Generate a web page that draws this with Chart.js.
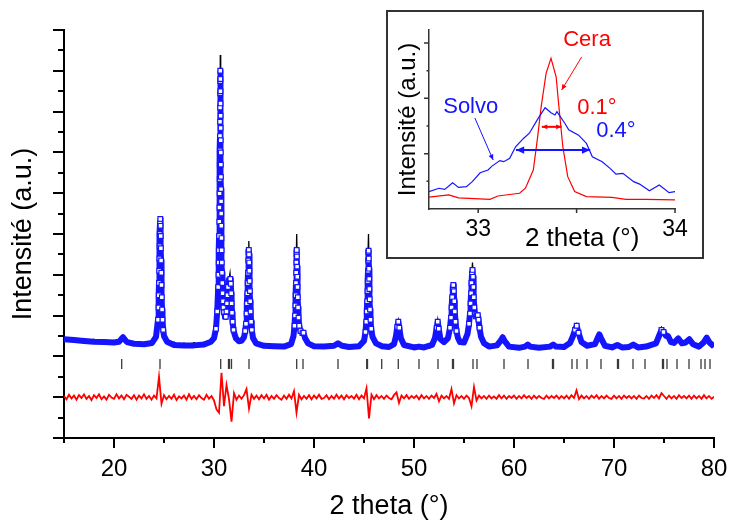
<!DOCTYPE html>
<html>
<head>
<meta charset="utf-8">
<script src="https://cdn.jsdelivr.net/npm/chart.js@4.4.0/dist/chart.umd.min.js"></script>
<style>
  html, body { margin: 0; padding: 0; background: #fff; }
  canvas { display: block; }
  #wrap { position: relative; width: 732px; height: 523px; }
  #inset { position: absolute; left: 386px; top: 10px; width: 318px; height: 249px;
           border: 2px solid #333; box-sizing: border-box; background: #fff; }
</style>
</head>
<body>
<div id="wrap">
  <canvas id="main" width="732" height="523"></canvas>
  <div id="inset"><canvas id="zoom" width="314" height="245"></canvas></div>
</div>
<script>
// ---- données (2 theta, intensité en unités arbitraires) ----

// profil calculé (carrés bleus)
const calcProfile = [
  [15,2.42],[16,2.40],[17,2.38],[18,2.36],[19,2.35],[20,2.34],[20.5,2.36],[20.75,2.43],[20.9,2.47],[21.05,2.42],[21.3,2.35],
  [22,2.31],[23,2.30],[23.8,2.33],[24.2,2.48],[24.4,2.90],[24.45,3.20],[24.48,3.50],[24.5,3.80],[24.52,4.10],[24.54,4.40],
  [24.56,4.70],[24.58,5.00],[24.6,5.25],[24.63,5.37],[24.65,5.20],[24.67,4.95],[24.69,4.65],[24.71,4.35],[24.73,4.05],
  [24.75,3.75],[24.78,3.45],[24.81,3.15],[24.85,2.90],[24.92,2.65],[25,2.50],[25.3,2.36],[26,2.28],[27,2.27],[28,2.27],
  [29,2.29],[29.7,2.36],[30,2.45],[30.2,2.68],[30.32,3.10],[30.42,3.70],[30.45,4.00],[30.47,4.30],[30.49,4.60],[30.51,4.95],
  [30.53,5.30],[30.545,5.65],[30.56,6.00],[30.57,6.35],[30.58,6.70],[30.59,7.05],[30.6,7.40],[30.605,7.75],[30.61,8.10],
  [30.62,8.45],[30.625,8.75],[30.63,9.00],[30.64,8.80],[30.645,8.50],[30.65,8.20],[30.66,7.90],[30.665,7.60],[30.67,7.30],
  [30.68,7.00],[30.685,6.70],[30.69,6.40],[30.7,6.10],[30.71,5.80],[30.72,5.50],[30.73,5.20],[30.745,4.90],[30.76,4.60],
  [30.78,4.30],[30.8,4.05],[30.83,3.80],[30.86,3.55],[30.9,3.35],[30.95,3.20],[31,3.08],[31.1,2.98],[31.18,2.97],
  [31.25,3.10],[31.3,3.30],[31.35,3.50],[31.4,3.70],[31.46,3.84],[31.52,3.86],[31.58,3.86],[31.63,3.90],[31.68,3.78],
  [31.72,3.55],[31.76,3.30],[31.8,3.07],[31.86,2.85],[31.95,2.65],[32.05,2.55],[32.2,2.44],[32.5,2.37],[32.75,2.38],
  [33,2.47],[33.12,2.62],[33.2,2.80],[33.26,3.05],[33.3,3.30],[33.34,3.55],[33.37,3.80],[33.4,4.05],[33.43,4.35],
  [33.46,4.55],[33.48,4.61],[33.5,4.50],[33.52,4.30],[33.54,4.10],[33.56,3.85],[33.59,3.60],[33.62,3.35],[33.66,3.10],
  [33.71,2.85],[33.78,2.65],[33.9,2.45],[34.2,2.32],[35,2.26],[36,2.25],[37,2.24],[37.7,2.30],[37.95,2.50],[38.05,2.75],
  [38.1,3.00],[38.14,3.25],[38.17,3.50],[38.2,3.80],[38.22,4.05],[38.24,4.30],[38.26,4.50],[38.27,4.61],[38.29,4.45],
  [38.31,4.20],[38.33,3.95],[38.35,3.70],[38.38,3.45],[38.41,3.20],[38.45,2.95],[38.52,2.75],[38.65,2.62],[38.85,2.57],
  [38.95,2.58],[39.1,2.45],[39.4,2.32],[40,2.25],[41,2.24],[42,2.26],[42.4,2.32],[42.8,2.26],[43.5,2.23],[44.5,2.25],
  [45,2.38],[45.15,2.60],[45.23,2.85],[45.28,3.10],[45.32,3.35],[45.35,3.60],[45.38,3.85],[45.4,4.10],[45.42,4.35],
  [45.44,4.55],[45.46,4.59],[45.48,4.40],[45.5,4.15],[45.52,3.90],[45.54,3.65],[45.57,3.40],[45.6,3.15],[45.65,2.90],
  [45.72,2.68],[45.85,2.48],[46.2,2.32],[46.8,2.25],[47.5,2.23],[48,2.30],[48.2,2.50],[48.33,2.72],[48.43,2.85],
  [48.53,2.70],[48.68,2.45],[49,2.28],[50,2.22],[50.5,2.24],[51,2.22],[51.8,2.28],[52.1,2.45],[52.27,2.70],[52.37,2.85],
  [52.47,2.68],[52.65,2.42],[53,2.35],[53.4,2.45],[53.6,2.70],[53.7,2.95],[53.76,3.20],[53.82,3.45],[53.88,3.68],
  [53.93,3.75],[53.98,3.60],[54.03,3.35],[54.08,3.10],[54.15,2.85],[54.25,2.62],[54.4,2.45],[54.6,2.35],[55,2.34],
  [55.35,2.55],[55.5,2.80],[55.6,3.05],[55.66,3.30],[55.71,3.55],[55.75,3.80],[55.8,4.02],[55.85,4.12],[55.9,3.95],
  [55.94,3.70],[55.98,3.45],[56.03,3.20],[56.1,3.03],[56.2,2.98],[56.3,3.00],[56.38,3.01],[56.45,2.90],[56.55,2.70],
  [56.7,2.48],[57,2.32],[57.5,2.24],[58.3,2.27],[58.7,2.40],[58.87,2.47],[59.05,2.38],[59.5,2.24],[60.5,2.21],[61.1,2.24],
  [61.37,2.29],[61.6,2.24],[62.5,2.21],[63.6,2.24],[63.93,2.29],[64.2,2.24],[65,2.23],[65.6,2.33],[65.9,2.50],[66.1,2.65],
  [66.27,2.75],[66.45,2.58],[66.75,2.35],[67.3,2.26],[68.1,2.30],[68.4,2.47],[68.53,2.54],[68.7,2.45],[69.1,2.26],
  [69.8,2.22],[70.33,2.28],[70.8,2.22],[71.5,2.23],[71.93,2.29],[72.4,2.22],[73.2,2.24],[74.2,2.32],[74.5,2.50],
  [74.75,2.65],[74.95,2.60],[75.2,2.50],[75.4,2.50],[75.7,2.35],[76,2.33],[76.43,2.44],[76.8,2.32],[77.15,2.34],
  [77.53,2.42],[77.9,2.30],[78.5,2.24],[78.95,2.34],[79.27,2.46],[79.55,2.34],[80,2.24]
];

// profil observé (trait noir)
const obsProfile = [
  [15,2.47],[15.5,2.40],[16,2.46],[16.5,2.39],[17,2.44],[17.5,2.36],[18,2.42],[18.5,2.34],[19,2.41],[19.5,2.33],[20,2.39],
  [20.5,2.35],[20.9,2.50],[21.3,2.33],[21.7,2.38],[22.2,2.29],[22.6,2.36],[23,2.28],[23.5,2.35],[23.9,2.34],[24.3,2.70],
  [24.5,4.00],[24.6,5.30],[24.63,5.42],[24.67,5.10],[24.75,3.60],[24.9,2.70],[25.2,2.38],[25.6,2.30],[26,2.35],[26.5,2.26],
  [27,2.33],[27.5,2.25],[28,2.34],[28.5,2.27],[29,2.35],[29.5,2.30],[30,2.47],[30.3,3.00],[30.5,4.60],[30.58,7.00],
  [30.63,9.39],[30.67,8.10],[30.72,6.00],[30.8,4.20],[30.95,3.20],[31.15,2.99],[31.35,3.45],[31.5,3.90],[31.6,4.04],
  [31.7,3.70],[31.85,2.90],[32.1,2.50],[32.5,2.36],[32.9,2.44],[33.2,2.85],[33.4,4.30],[33.48,4.83],[33.55,4.10],
  [33.7,2.85],[34,2.42],[34.5,2.30],[35,2.30],[35.5,2.22],[36,2.30],[36.5,2.22],[37,2.29],[37.5,2.23],[37.9,2.45],
  [38.15,3.40],[38.27,5.00],[38.33,4.20],[38.5,2.85],[38.9,2.60],[39.3,2.34],[39.8,2.29],[40.3,2.21],[40.8,2.28],
  [41.3,2.20],[41.8,2.28],[42.4,2.35],[42.9,2.24],[43.4,2.20],[43.9,2.28],[44.4,2.22],[44.9,2.36],[45.25,3.10],
  [45.45,5.00],[45.5,4.20],[45.65,2.95],[45.9,2.45],[46.3,2.31],[46.8,2.22],[47.3,2.29],[47.8,2.24],[48.2,2.52],
  [48.43,2.88],[48.7,2.44],[49.1,2.28],[49.6,2.21],[50.1,2.28],[50.6,2.20],[51.1,2.27],[51.6,2.21],[52.1,2.46],
  [52.37,2.90],[52.6,2.45],[53,2.33],[53.5,2.52],[53.8,3.35],[53.93,3.80],[54.1,3.05],[54.5,2.38],[55,2.36],[55.5,2.85],
  [55.75,3.90],[55.85,4.30],[56,3.40],[56.2,2.99],[56.4,3.05],[56.7,2.50],[57.1,2.30],[57.6,2.22],[58.1,2.29],[58.5,2.30],
  [58.87,2.50],[59.3,2.27],[59.8,2.19],[60.3,2.26],[60.8,2.19],[61.37,2.31],[61.9,2.20],[62.4,2.26],[62.9,2.19],
  [63.4,2.25],[63.93,2.31],[64.5,2.20],[65,2.27],[65.6,2.35],[65.9,2.52],[66.27,2.78],[66.5,2.55],[66.9,2.30],[67.4,2.24],
  [67.9,2.29],[68.53,2.57],[68.9,2.32],[69.4,2.21],[69.9,2.27],[70.33,2.31],[70.8,2.20],[71.3,2.27],[71.93,2.32],
  [72.5,2.20],[73,2.27],[73.5,2.21],[74.2,2.34],[74.55,2.62],[74.75,2.72],[74.95,2.64],[75.2,2.48],[75.4,2.53],
  [75.7,2.36],[76,2.32],[76.43,2.46],[76.8,2.30],[77.2,2.36],[77.53,2.44],[77.9,2.28],[78.4,2.26],[78.95,2.35],
  [79.27,2.48],[79.6,2.33],[80,2.23]
];

// courbe différence (rouge), un point tous les 0.25° à partir de 15°
const diffStart = 15, diffStep = 0.25;
const diffValues = [
  1.03,0.95,1.06,0.97, 1.04,0.94,1.05,0.98, 1.07,0.96,1.03,0.93, 1.05,0.98,1.07,0.95, 1.02,0.94,1.06,0.99,
  0.96,1.07,0.97,1.04, 0.95,1.06,1.01,0.96, 1.05,0.94,1.04,0.97, 1.07,0.96,1.03,0.94, 1.04,0.97,1.50,0.84,
  1.05,0.95,1.03,0.96, 1.06,0.93,1.02,0.97, 1.04,0.94,1.07,0.96, 1.03,0.95,1.05,0.98, 0.94,1.06,0.96,1.03,
  0.92,0.70,0.62,1.60, 0.78,1.30,0.95,0.40, 1.10,0.94,1.04,0.96, 1.05,1.20,0.72,1.06, 0.96,1.04,0.95,1.05,
  0.97,1.06,0.94,1.03, 0.96,1.05,0.98,0.94, 1.04,0.96,1.06,0.97, 1.15,0.62,1.06,0.95, 1.03,0.96,1.05,0.95,
  1.04,0.97,1.06,0.96, 0.98,1.05,0.95,1.03, 0.96,1.06,0.97,1.04, 0.95,1.05,0.98,1.03, 0.96,1.06,0.95,1.04,
  0.97,1.22,0.48,1.06, 0.95,1.05,0.97,1.03, 0.96,1.04,0.98,0.95, 1.05,1.12,0.86,1.04, 0.97,1.05,0.96,1.03,
  0.98,1.04,0.95,1.05, 0.97,1.03,0.96,1.04, 0.98,1.08,0.90,1.04, 0.97,1.03,0.96,1.20, 0.85,1.05,0.97,1.03,
  0.96,1.04,0.98,0.78, 1.25,0.92,1.04,0.97, 1.03,0.96,1.04,0.97, 1.02,0.96,1.05,0.97, 1.04,0.96,1.03,0.98,
  1.04,0.96,1.03,0.97, 1.05,0.98,1.03,0.96, 1.04,0.97,1.03,0.98, 0.96,1.04,0.97,1.03, 0.98,1.04,0.96,1.03,
  0.97,1.04,0.96,1.05, 0.98,1.17,0.95,1.04, 0.97,1.03,0.96,1.04, 0.98,1.05,0.96,1.03, 0.97,1.04,0.98,0.96,
  1.04,0.97,1.03,0.96, 1.04,0.98,1.03,0.97, 1.03,0.96,1.04,0.98, 0.97,1.03,0.96,1.04, 0.98,1.05,0.97,1.10,
  1.03,0.96,1.04,0.97, 1.03,0.96,1.05,0.98, 1.03,0.97,1.04,0.96, 1.04,0.97,1.03,0.96, 1.05,0.97,1.03,0.96,
  1.01
];

// positions de Bragg (traits verticaux)
const braggPositions = [20.77,24.6,30.67,31.45,31.55,31.75,33.5,38.27,38.9,42.4,45.27,45.35,46.77,48.43,50.5,52.4,
  53.85,53.95,55.9,56.3,59.0,61.4,63.85,63.95,65.8,66.3,67.3,68.7,70.35,70.45,71.9,73.1,74.85,74.95,75.3,76.3,
  77.5,78.7,79.1,79.6];
const braggLevel = 1.815;

// graduations
const xMajor = [20, 30, 40, 50, 60, 70, 80];
const xMinor = [15, 25, 35, 45, 55, 65, 75];
const yMajor = [0, 1, 2, 3, 4, 5, 6, 7, 8, 9, 10];
const yMinor = [0.5, 1.5, 2.5, 3.5, 4.5, 5.5, 6.5, 7.5, 8.5, 9.5];

// encart : pic autour de 33.4°
const solvoProfile = [
  [32.75,0.63],[32.80,0.75],[32.83,0.71],[32.87,0.95],[32.90,0.78],[32.94,0.81],[32.97,0.99],[33.01,1.31],[33.05,1.41],
  [33.07,1.55],[33.11,1.75],[33.13,1.71],[33.16,1.83],[33.19,2.25],[33.23,2.55],[33.26,2.74],[33.30,3.22],[33.34,3.66],
  [33.37,3.48],[33.39,3.40],[33.40,3.52],[33.44,3.10],[33.46,2.86],[33.51,2.67],[33.55,2.37],[33.58,1.89],[33.63,1.71],
  [33.67,1.47],[33.70,1.26],[33.735,1.29],[33.79,0.99],[33.82,0.90],[33.87,0.66],[33.92,0.87],[33.97,0.59],[34.0,0.63]
];
const ceraProfile = [
  [32.75,0.43],[32.85,0.51],[32.90,0.40],[33.06,0.35],[33.10,0.47],[33.21,0.57],[33.24,0.75],[33.28,1.41],[33.30,2.49],
  [33.32,3.70],[33.345,4.90],[33.37,5.45],[33.396,4.78],[33.41,3.70],[33.43,2.25],[33.455,1.17],[33.49,0.63],
  [33.55,0.45],[33.68,0.42],[33.75,0.35],[33.85,0.35],[34.0,0.33]
];
const insetXTicks = [33, 33.5, 34];
const insetXLabels = [33, 34];
const insetYMajor = [2, 4, 6];
const insetYMinor = [1, 3, 5];

const FONT = "'Liberation Sans', Arial, Helvetica, sans-serif";
const BLUE = '#1414ff';
const RED = '#ff0000';
Chart.defaults.font.family = FONT;
Chart.defaults.color = '#000';

const toXY = arr => arr.map(p => ({ x: p[0], y: p[1] }));

// traits de graduation (majeurs / mineurs) du graphique principal
const mainTicks = {
  id: 'mainTicks',
  afterDraw(chart) {
    const { ctx, chartArea: a, scales: { x, y } } = chart;
    ctx.save();
    ctx.strokeStyle = '#000';
    ctx.lineWidth = 2;
    ctx.beginPath();
    xMajor.forEach(v => { const p = Math.round(x.getPixelForValue(v)); ctx.moveTo(p, a.bottom); ctx.lineTo(p, a.bottom + 10); });
    xMinor.forEach(v => { const p = Math.round(x.getPixelForValue(v)); ctx.moveTo(p, a.bottom); ctx.lineTo(p, a.bottom + 5); });
    yMajor.forEach(v => { const p = Math.round(y.getPixelForValue(v)); ctx.moveTo(a.left, p); ctx.lineTo(a.left - 11, p); });
    yMinor.forEach(v => { const p = Math.round(y.getPixelForValue(v)); ctx.moveTo(a.left, p); ctx.lineTo(a.left - 6, p); });
    ctx.stroke();
    ctx.restore();
  }
};

new Chart(document.getElementById('main'), {
  type: 'line',
  data: {
    datasets: [
      {
        label: 'calc',
        data: toXY(calcProfile),
        borderColor: BLUE,
        borderWidth: 6,
        borderJoinStyle: 'round',
        pointStyle: 'rect',
        pointRadius: c => (c.raw && c.raw.y > 2.56 ? 3.3 : 0),
        pointBorderColor: BLUE,
        pointBackgroundColor: '#fff',
        pointBorderWidth: 1.2,
        order: 1
      },
      {
        label: 'obs',
        data: toXY(obsProfile),
        borderColor: '#000',
        borderWidth: 1.3,
        pointRadius: 0,
        order: 2
      },
      {
        label: 'diff',
        data: diffValues.map((v, i) => ({ x: diffStart + i * diffStep, y: v })),
        borderColor: RED,
        borderWidth: 1.8,
        pointRadius: 0,
        order: 3
      },
      {
        label: 'bragg',
        data: braggPositions.map(v => ({ x: v, y: braggLevel })),
        showLine: false,
        pointStyle: 'line',
        rotation: 90,
        pointRadius: 5,
        pointBorderColor: '#3a3a3a',
        pointBorderWidth: 1.3,
        order: 4
      }
    ]
  },
  options: {
    responsive: false,
    animation: false,
    devicePixelRatio: 1,
    layout: { padding: { top: 30, right: 18, bottom: 0, left: 0 } },
    plugins: { legend: { display: false }, tooltip: { enabled: false } },
    scales: {
      x: {
        type: 'linear',
        min: 15,
        max: 80,
        afterBuildTicks: s => { s.ticks = xMajor.map(v => ({ value: v })); },
        afterFit: s => { s.height = 85; s.paddingLeft = 0; s.paddingRight = 0; },
        ticks: { autoSkip: false, maxRotation: 0, padding: 17, font: { size: 24 }, callback: v => String(v) },
        grid: { drawOnChartArea: false, drawTicks: false },
        border: { display: true, width: 2, color: '#000' },
        title: { display: true, text: '2 theta (°)', font: { size: 27 }, padding: { top: 0, bottom: 0 } }
      },
      y: {
        min: 0,
        max: 10,
        afterFit: s => { s.width = 64; },
        ticks: { display: false },
        grid: { drawOnChartArea: false, drawTicks: false },
        border: { display: true, width: 2, color: '#000' },
        title: { display: true, text: 'Intensité (a.u.)', font: { size: 27 }, padding: { top: 7, bottom: 0 } }
      }
    }
  },
  plugins: [mainTicks]
});

// encart : annotations (positions en coordonnées de l'encart)
const insetNotes = [
  { text: 'Cera', x: 33.553, y: 6.11, color: RED },
  { text: 'Solvo', x: 32.962, y: 3.69, color: BLUE },
  { text: '0.1°', x: 33.603, y: 3.67, color: RED },
  { text: '0.4°', x: 33.70, y: 2.82, color: BLUE }
];
const insetArrows = [
  { from: [33.526, 5.50], to: [33.424, 4.30], color: RED, both: false, head: 6, width: 1 },
  { from: [32.983, 3.29], to: [33.076, 1.77], color: BLUE, both: false, head: 6, width: 1 },
  { from: [33.323, 2.97], to: [33.424, 2.97], color: RED, both: true, head: 6, width: 2 },
  { from: [33.192, 2.13], to: [33.569, 2.13], color: BLUE, both: true, head: 9, width: 2 }
];

function head(ctx, x1, y1, x2, y2, size) {
  const ang = Math.atan2(y2 - y1, x2 - x1);
  ctx.beginPath();
  ctx.moveTo(x2, y2);
  ctx.lineTo(x2 - size * Math.cos(ang - 0.42), y2 - size * Math.sin(ang - 0.42));
  ctx.lineTo(x2 - size * Math.cos(ang + 0.42), y2 - size * Math.sin(ang + 0.42));
  ctx.closePath();
  ctx.fill();
}

const insetDeco = {
  id: 'insetDeco',
  afterDraw(chart) {
    const { ctx, chartArea: a, scales: { x, y } } = chart;
    ctx.save();
    ctx.strokeStyle = '#333';
    ctx.lineWidth = 1.5;
    ctx.beginPath();
    insetXTicks.forEach(v => { const p = x.getPixelForValue(v); ctx.moveTo(p, a.bottom); ctx.lineTo(p, a.bottom + 4); });
    insetYMajor.forEach(v => { const p = y.getPixelForValue(v); ctx.moveTo(a.left, p); ctx.lineTo(a.left - 5, p); });
    insetYMinor.forEach(v => { const p = y.getPixelForValue(v); ctx.moveTo(a.left, p); ctx.lineTo(a.left - 2.5, p); });
    ctx.stroke();

    ctx.fillStyle = '#000';
    ctx.font = '26px ' + FONT;
    ctx.textAlign = 'center';
    ctx.textBaseline = 'middle';
    ctx.fillText('2 theta (°)', x.getPixelForValue(33.528), a.bottom + 30);

    ctx.font = '22px ' + FONT;
    insetNotes.forEach(n => {
      ctx.fillStyle = n.color;
      ctx.fillText(n.text, x.getPixelForValue(n.x), y.getPixelForValue(n.y));
    });

    insetArrows.forEach(r => {
      const x1 = x.getPixelForValue(r.from[0]), y1 = y.getPixelForValue(r.from[1]);
      const x2 = x.getPixelForValue(r.to[0]), y2 = y.getPixelForValue(r.to[1]);
      ctx.strokeStyle = r.color;
      ctx.fillStyle = r.color;
      ctx.lineWidth = r.width;
      ctx.beginPath();
      ctx.moveTo(x1, y1);
      ctx.lineTo(x2, y2);
      ctx.stroke();
      head(ctx, x1, y1, x2, y2, r.head);
      if (r.both) head(ctx, x2, y2, x1, y1, r.head);
    });
    ctx.restore();
  }
};

new Chart(document.getElementById('zoom'), {
  type: 'line',
  data: {
    datasets: [
      { label: 'Solvo', data: toXY(solvoProfile), borderColor: BLUE, borderWidth: 1.2, pointRadius: 0 },
      { label: 'Cera', data: toXY(ceraProfile), borderColor: RED, borderWidth: 1.2, pointRadius: 0 }
    ]
  },
  options: {
    responsive: false,
    animation: false,
    devicePixelRatio: 1,
    layout: { padding: { top: 18, right: 27, bottom: 0, left: 0 } },
    plugins: { legend: { display: false }, tooltip: { enabled: false } },
    scales: {
      x: {
        type: 'linear',
        min: 32.75,
        max: 34,
        afterBuildTicks: s => { s.ticks = insetXLabels.map(v => ({ value: v })); },
        afterFit: s => { s.height = 48; s.paddingLeft = 0; s.paddingRight = 0; },
        ticks: { autoSkip: false, maxRotation: 0, padding: 7, font: { size: 23 }, callback: v => String(v) },
        grid: { drawOnChartArea: false, drawTicks: false },
        border: { display: true, width: 1.5, color: '#333' }
      },
      y: {
        min: 0,
        max: 6.47,
        afterFit: s => { s.width = 41; },
        ticks: { display: false },
        grid: { drawOnChartArea: false, drawTicks: false },
        border: { display: true, width: 1.5, color: '#333' },
        title: { display: true, text: 'Intensité (a.u.)', font: { size: 24 }, padding: { top: 6, bottom: 0 } }
      }
    }
  },
  plugins: [insetDeco]
});
</script>
</body>
</html>
